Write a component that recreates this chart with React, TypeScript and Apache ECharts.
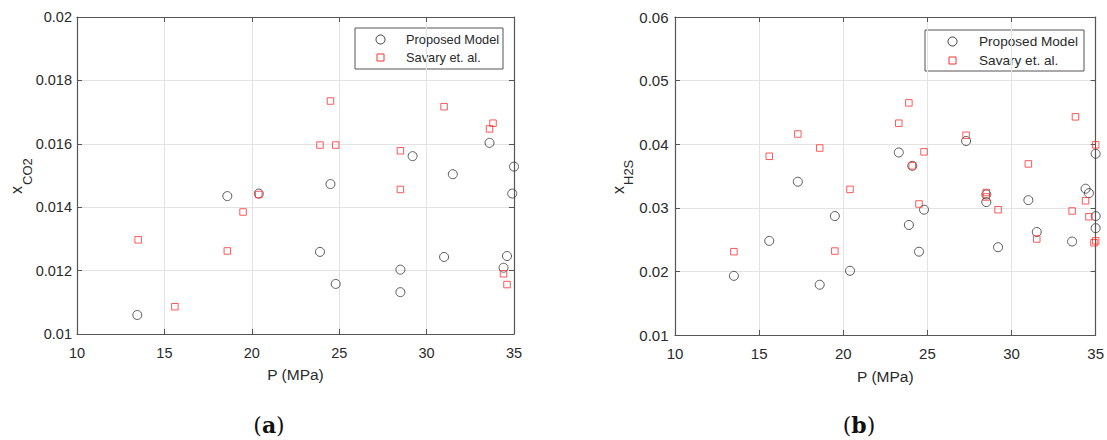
import React, { useEffect, useRef } from "react";
import * as echarts from "echarts";

// ---- Data (a): x_CO2 vs P ----
const co2ModelP = [13.45, 18.6, 20.4, 23.9, 24.5, 24.8, 28.5, 28.5, 29.2, 31.0, 31.5, 33.6, 34.4, 34.6, 34.9, 35.0];
const co2ModelX = [0.0106, 0.01435, 0.01443, 0.01259, 0.01473, 0.01158, 0.01203, 0.01132, 0.01561, 0.01243, 0.01504, 0.01603, 0.01209, 0.01246, 0.01443, 0.01528];
const co2SavaryP = [13.5, 15.6, 18.6, 19.5, 20.4, 23.9, 24.5, 24.8, 28.5, 28.5, 31.0, 33.6, 33.8, 34.4, 34.6];
const co2SavaryX = [0.01297, 0.01086, 0.01262, 0.01385, 0.0144, 0.01596, 0.01735, 0.01596, 0.01578, 0.01456, 0.01717, 0.01647, 0.01665, 0.0119, 0.01156];

// ---- Data (b): x_H2S vs P ----
const h2sModelP = [13.5, 15.6, 17.3, 18.6, 19.5, 20.4, 23.3, 23.9, 24.1, 24.5, 24.8, 27.3, 28.5, 28.5, 29.2, 31.0, 31.5, 33.6, 34.4, 34.6, 35.0, 35.0, 35.0];
const h2sModelX = [0.0193, 0.0248, 0.0341, 0.0179, 0.0287, 0.0201, 0.0387, 0.0273, 0.0366, 0.0231, 0.0297, 0.0405, 0.0321, 0.0309, 0.0238, 0.0312, 0.0262, 0.0247, 0.033, 0.0323, 0.0385, 0.0287, 0.0268];
const h2sSavaryP = [13.5, 15.6, 17.3, 18.6, 19.5, 20.4, 23.3, 23.9, 24.1, 24.5, 24.8, 27.3, 28.5, 28.5, 29.2, 31.0, 31.5, 33.6, 33.8, 34.4, 34.6, 35.0, 34.9, 35.0];
const h2sSavaryX = [0.0231, 0.0381, 0.0416, 0.0394, 0.0232, 0.0329, 0.0433, 0.0465, 0.0366, 0.0306, 0.0388, 0.0414, 0.0324, 0.0317, 0.0297, 0.0369, 0.0251, 0.0295, 0.0443, 0.0311, 0.0286, 0.0399, 0.0245, 0.0248];

const seriesNames = ["Proposed Model", "Savary et. al."];
const xTickLabels = ["10", "15", "20", "25", "30", "35"];
const captions = ["a", "b"];

const pairs = (xs: number[], ys: number[]) => xs.map((x, i) => [x, ys[i]]);

const FONT = "'Liberation Sans', Arial, Helvetica, sans-serif";
const AXIS_COLOR = "#555";
const GRID_COLOR = "#e3e3e3";
const TEXT_COLOR = "#2a2a2a";
const CIRCLE_COLOR = "#333";
const SQUARE_COLOR = "#ff3030";

export default function App() {
  const ref = useRef<HTMLDivElement>(null);

  useEffect(() => {
    if (!ref.current) return;
    const chart = echarts.init(ref.current, null, { renderer: "svg" });

    const grids = [
      { left: 77, top: 17, width: 437, height: 317 },
      { left: 675, top: 17, width: 421, height: 318 },
    ];
    const yRanges = [
      { min: 0.01, max: 0.02, interval: 0.002, fs: 14.5, margin: 5 },
      { min: 0.01, max: 0.06, interval: 0.01, fs: 15, margin: 6.5 },
    ];
    const xFont = [14.5, 15];

    const xAxes: any[] = [];
    const yAxes: any[] = [];
    grids.forEach((_, gi) => {
      xAxes.push({
        type: "value",
        gridIndex: gi,
        position: "bottom",
        min: 10,
        max: 35,
        interval: 5,
        name: "P (MPa)",
        nameLocation: "middle",
        nameGap: gi === 0 ? 32 : 33,
        nameTextStyle: { fontFamily: FONT, fontSize: 15.5, color: TEXT_COLOR },
        axisLine: { show: true, lineStyle: { color: AXIS_COLOR, width: 1.2 } },
        axisTick: { show: true, inside: true, length: 5, lineStyle: { color: AXIS_COLOR } },
        axisLabel: {
          fontFamily: FONT,
          fontSize: xFont[gi],
          color: TEXT_COLOR,
          margin: 11,
          formatter: (v: number) => xTickLabels[Math.round((v - 10) / 5)] ?? String(v),
        },
        splitLine: { show: true, lineStyle: { color: GRID_COLOR, width: 1 } },
      });
      xAxes.push({
        type: "value",
        gridIndex: gi,
        position: "top",
        min: 10,
        max: 35,
        interval: 5,
        axisLine: { show: true, lineStyle: { color: AXIS_COLOR, width: 1.2 } },
        axisTick: { show: true, inside: true, length: 5, lineStyle: { color: AXIS_COLOR } },
        axisLabel: { show: false },
        splitLine: { show: false },
      });
      const yr = yRanges[gi];
      yAxes.push({
        type: "value",
        gridIndex: gi,
        position: "left",
        min: yr.min,
        max: yr.max,
        interval: yr.interval,
        axisLine: { show: true, lineStyle: { color: AXIS_COLOR, width: 1.2 } },
        axisTick: { show: true, inside: true, length: 5, lineStyle: { color: AXIS_COLOR } },
        axisLabel: {
          fontFamily: FONT,
          fontSize: yr.fs,
          color: TEXT_COLOR,
          margin: yr.margin,
          formatter: (v: number) => String(parseFloat(v.toFixed(4))),
        },
        splitLine: { show: true, lineStyle: { color: GRID_COLOR, width: 1 } },
      });
      yAxes.push({
        type: "value",
        gridIndex: gi,
        position: "right",
        min: yr.min,
        max: yr.max,
        interval: yr.interval,
        axisLine: { show: true, lineStyle: { color: AXIS_COLOR, width: 1.2 } },
        axisTick: { show: true, inside: true, length: 5, lineStyle: { color: AXIS_COLOR } },
        axisLabel: { show: false },
        splitLine: { show: false },
      });
    });

    const circleSeries = (data: number[][], gi: number) => ({
      type: "scatter",
      name: seriesNames[0],
      xAxisIndex: gi * 2,
      yAxisIndex: gi * 2,
      symbol: "circle",
      symbolSize: 9,
      itemStyle: { color: "transparent", borderColor: CIRCLE_COLOR, borderWidth: 1 },
      data,
    });
    const squareSeries = (data: number[][], gi: number) => ({
      type: "scatter",
      name: seriesNames[1],
      xAxisIndex: gi * 2,
      yAxisIndex: gi * 2,
      symbol: "rect",
      symbolSize: 6.5,
      itemStyle: { color: "transparent", borderColor: SQUARE_COLOR, borderWidth: 1 },
      data,
    });

    const legendGraphic = (
      x: number,
      y: number,
      w: number,
      h: number,
      iconX: number,
      textX: number,
      row1: number,
      row2: number,
      fs: number
    ) => ({
      type: "group",
      children: [
        {
          type: "rect",
          shape: { x, y, width: w, height: h },
          style: { fill: "#fff", stroke: "#555", lineWidth: 1 },
        },
        {
          type: "circle",
          shape: { cx: iconX, cy: row1, r: 4.5 },
          style: { fill: "none", stroke: CIRCLE_COLOR, lineWidth: 1 },
        },
        {
          type: "rect",
          shape: { x: iconX - 3.5, y: row2 - 3.5, width: 7, height: 7 },
          style: { fill: "none", stroke: SQUARE_COLOR, lineWidth: 1 },
        },
        {
          type: "text",
          x: textX,
          y: row1,
          style: { text: seriesNames[0], fontFamily: FONT, fontSize: fs, fill: TEXT_COLOR, textAlign: "left", textVerticalAlign: "middle" },
        },
        {
          type: "text",
          x: textX,
          y: row2,
          style: { text: seriesNames[1], fontFamily: FONT, fontSize: fs, fill: TEXT_COLOR, textAlign: "left", textVerticalAlign: "middle" },
        },
      ],
    });

    const yName = (gx: number, sub: string, subOffset: number) => ({
      type: "group",
      x: gx,
      y: 194,
      rotation: Math.PI / 2,
      children: [
        {
          type: "text",
          x: 0,
          y: 0,
          style: { text: "x", fontFamily: FONT, fontSize: 16, fill: TEXT_COLOR, textAlign: "left", textVerticalAlign: "middle" },
        },
        {
          type: "text",
          x: 9,
          y: subOffset,
          style: { text: sub, fontFamily: FONT, fontSize: 13, fill: TEXT_COLOR, textAlign: "left", textVerticalAlign: "middle" },
        },
      ],
    });

    const caption = (cx: number, letter: string) => ({
      type: "text",
      x: cx,
      y: 425,
      style: {
        text: "{p|(}{b|" + letter + "}{p|)}",
        textAlign: "center",
        textVerticalAlign: "middle",
        rich: {
          p: { fontFamily: "'DejaVu Serif', serif", fontSize: 22, fill: "#111" },
          b: { fontFamily: "'DejaVu Serif', serif", fontSize: 22, fontWeight: "bold", fill: "#111" },
        },
      },
    });

    chart.setOption({
      animation: false,
      backgroundColor: "#fff",
      grid: grids.map((g) => ({ ...g, containLabel: false })),
      xAxis: xAxes,
      yAxis: yAxes,
      series: [
        circleSeries(pairs(co2ModelP, co2ModelX), 0),
        squareSeries(pairs(co2SavaryP, co2SavaryX), 0),
        circleSeries(pairs(h2sModelP, h2sModelX), 1),
        squareSeries(pairs(h2sSavaryP, h2sSavaryX), 1),
      ],
      graphic: [
        legendGraphic(355, 28, 148, 41, 380.5, 406, 39.5, 57.5, 12.8),
        legendGraphic(925, 30, 159, 41, 952.5, 979, 41.5, 60.5, 13.6),
        yName(16.4, "CO2", 10.6),
        yName(618.2, "H2S", 10.3),
        caption(269, captions[0]),
        caption(859, captions[1]),
      ],
    });

    return () => chart.dispose();
  }, []);

  return (
    <div
      ref={ref}
      style={{ position: "fixed", left: 0, top: 0, width: 1107, height: 440 }}
    />
  );
}
